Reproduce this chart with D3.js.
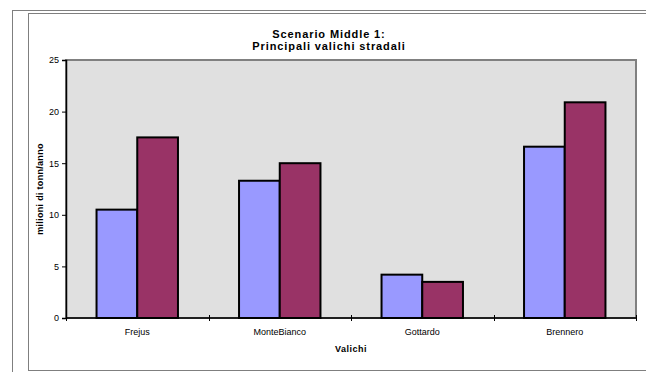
<!DOCTYPE html>
<html>
<head>
<meta charset="utf-8">
<script src="https://cdn.jsdelivr.net/npm/d3@7"></script>
<style>
  html, body { margin: 0; padding: 0; background: #ffffff; }
  svg { display: block; font-family: "Liberation Sans", Arial, sans-serif; }
</style>
</head>
<body>
<svg id="chart" width="646" height="372"></svg>
<script>
// Road crossings and yearly freight volumes (million tonnes / year)
const categories = ["Frejus", "MonteBianco", "Gottardo", "Brennero"];
const seriesNames = ["Serie 1", "Serie 2"];
const series1 = [10.5, 13.3, 4.2, 16.6];
const series2 = [17.5, 15.0, 3.5, 20.9];
const yTicks = [0, 5, 10, 15, 20, 25];
const titleLines = ["Scenario Middle 1:", "Principali valichi stradali"];
const xTitle = "Valichi";
const yTitle = "milioni di tonn/anno";
const colors = ["#9999FF", "#993366"];

const svg = d3.select("#chart");
const W = 646, H = 372;

// outer frames
svg.append("rect").attr("x", 12.5).attr("y", 10.5).attr("width", W).attr("height", H)
  .attr("fill", "none").attr("stroke", "#7f7f7f").attr("stroke-width", 1);
svg.append("rect").attr("x", 28.5).attr("y", 13.5).attr("width", W).attr("height", 357)
  .attr("fill", "#ffffff").attr("stroke", "#7f7f7f").attr("stroke-width", 1);

const plot = { left: 66, right: 636, top: 60, bottom: 318 };

const x = d3.scaleBand().domain(categories).range([plot.left, plot.right]);
const inner = d3.scaleBand().domain(seriesNames)
  .range([0, x.bandwidth()]).paddingOuter(0.75).paddingInner(0);
const y = d3.scaleLinear().domain([0, 25]).range([plot.bottom, plot.top]);

// plot area
svg.append("rect")
  .attr("x", plot.left).attr("y", plot.top)
  .attr("width", plot.right - plot.left).attr("height", plot.bottom - plot.top)
  .attr("fill", "#E0E0E0").attr("stroke", "#808080").attr("stroke-width", 2);

// bars
const rows = categories.map((c, i) => ({ cat: c, vals: [series1[i], series2[i]] }));
const groups = svg.append("g").selectAll("g").data(rows).join("g")
  .attr("transform", d => `translate(${x(d.cat)},0)`);
groups.selectAll("rect")
  .data(d => d.vals.map((v, k) => ({ v, k })))
  .join("rect")
  .attr("x", d => inner(seriesNames[d.k]))
  .attr("y", d => y(d.v))
  .attr("width", inner.bandwidth())
  .attr("height", d => y(0) - y(d.v))
  .attr("fill", d => colors[d.k])
  .attr("stroke", "#000").attr("stroke-width", 2);

// y axis
const yAxis = svg.append("g").attr("transform", `translate(${plot.left},0)`)
  .call(d3.axisLeft(y).tickValues(yTicks).tickSize(4).tickPadding(3));
yAxis.select(".domain").attr("stroke", "#000").attr("stroke-width", 1.5);
yAxis.selectAll(".tick line").attr("stroke", "#000");
yAxis.selectAll("text").attr("font-size", 9).attr("fill", "#000")
  .attr("font-family", "Liberation Sans, Arial, sans-serif");

// x axis with ticks between categories
const xAxis = svg.append("g").attr("transform", `translate(0,${plot.bottom})`);
xAxis.append("line").attr("x1", plot.left).attr("x2", plot.right)
  .attr("stroke", "#000").attr("stroke-width", 1.5);
const boundaries = categories.map(c => x(c)).concat([x(categories[categories.length - 1]) + x.bandwidth()]);
xAxis.selectAll("line.tk").data(boundaries).join("line").attr("class", "tk")
  .attr("x1", d => Math.round(d) + 0.5).attr("x2", d => Math.round(d) + 0.5)
  .attr("y1", -3).attr("y2", 3).attr("stroke", "#000");
xAxis.selectAll("text").data(categories).join("text")
  .attr("x", d => x(d) + x.bandwidth() / 2).attr("y", 17)
  .attr("text-anchor", "middle").attr("font-size", 9).attr("fill", "#000")
  .text(d => d);

// titles
svg.append("text").attr("x", 329).attr("y", 38).attr("text-anchor", "middle")
  .attr("font-size", 11).attr("font-weight", "bold").attr("letter-spacing", 0.9)
  .selectAll("tspan").data(titleLines).join("tspan")
  .attr("x", 329).attr("dy", (d, i) => i === 0 ? 0 : 12).text(d => d);

svg.append("text").attr("x", (plot.left + plot.right) / 2).attr("y", 352)
  .attr("text-anchor", "middle").attr("font-size", 9).attr("font-weight", "bold")
  .attr("letter-spacing", 0.5)
  .text(xTitle);

svg.append("text")
  .attr("transform", `translate(43,${(plot.top + plot.bottom) / 2}) rotate(-90)`)
  .attr("text-anchor", "middle").attr("font-size", 9).attr("font-weight", "bold")
  .attr("letter-spacing", 0.3)
  .text(yTitle);
</script>
</body>
</html>
